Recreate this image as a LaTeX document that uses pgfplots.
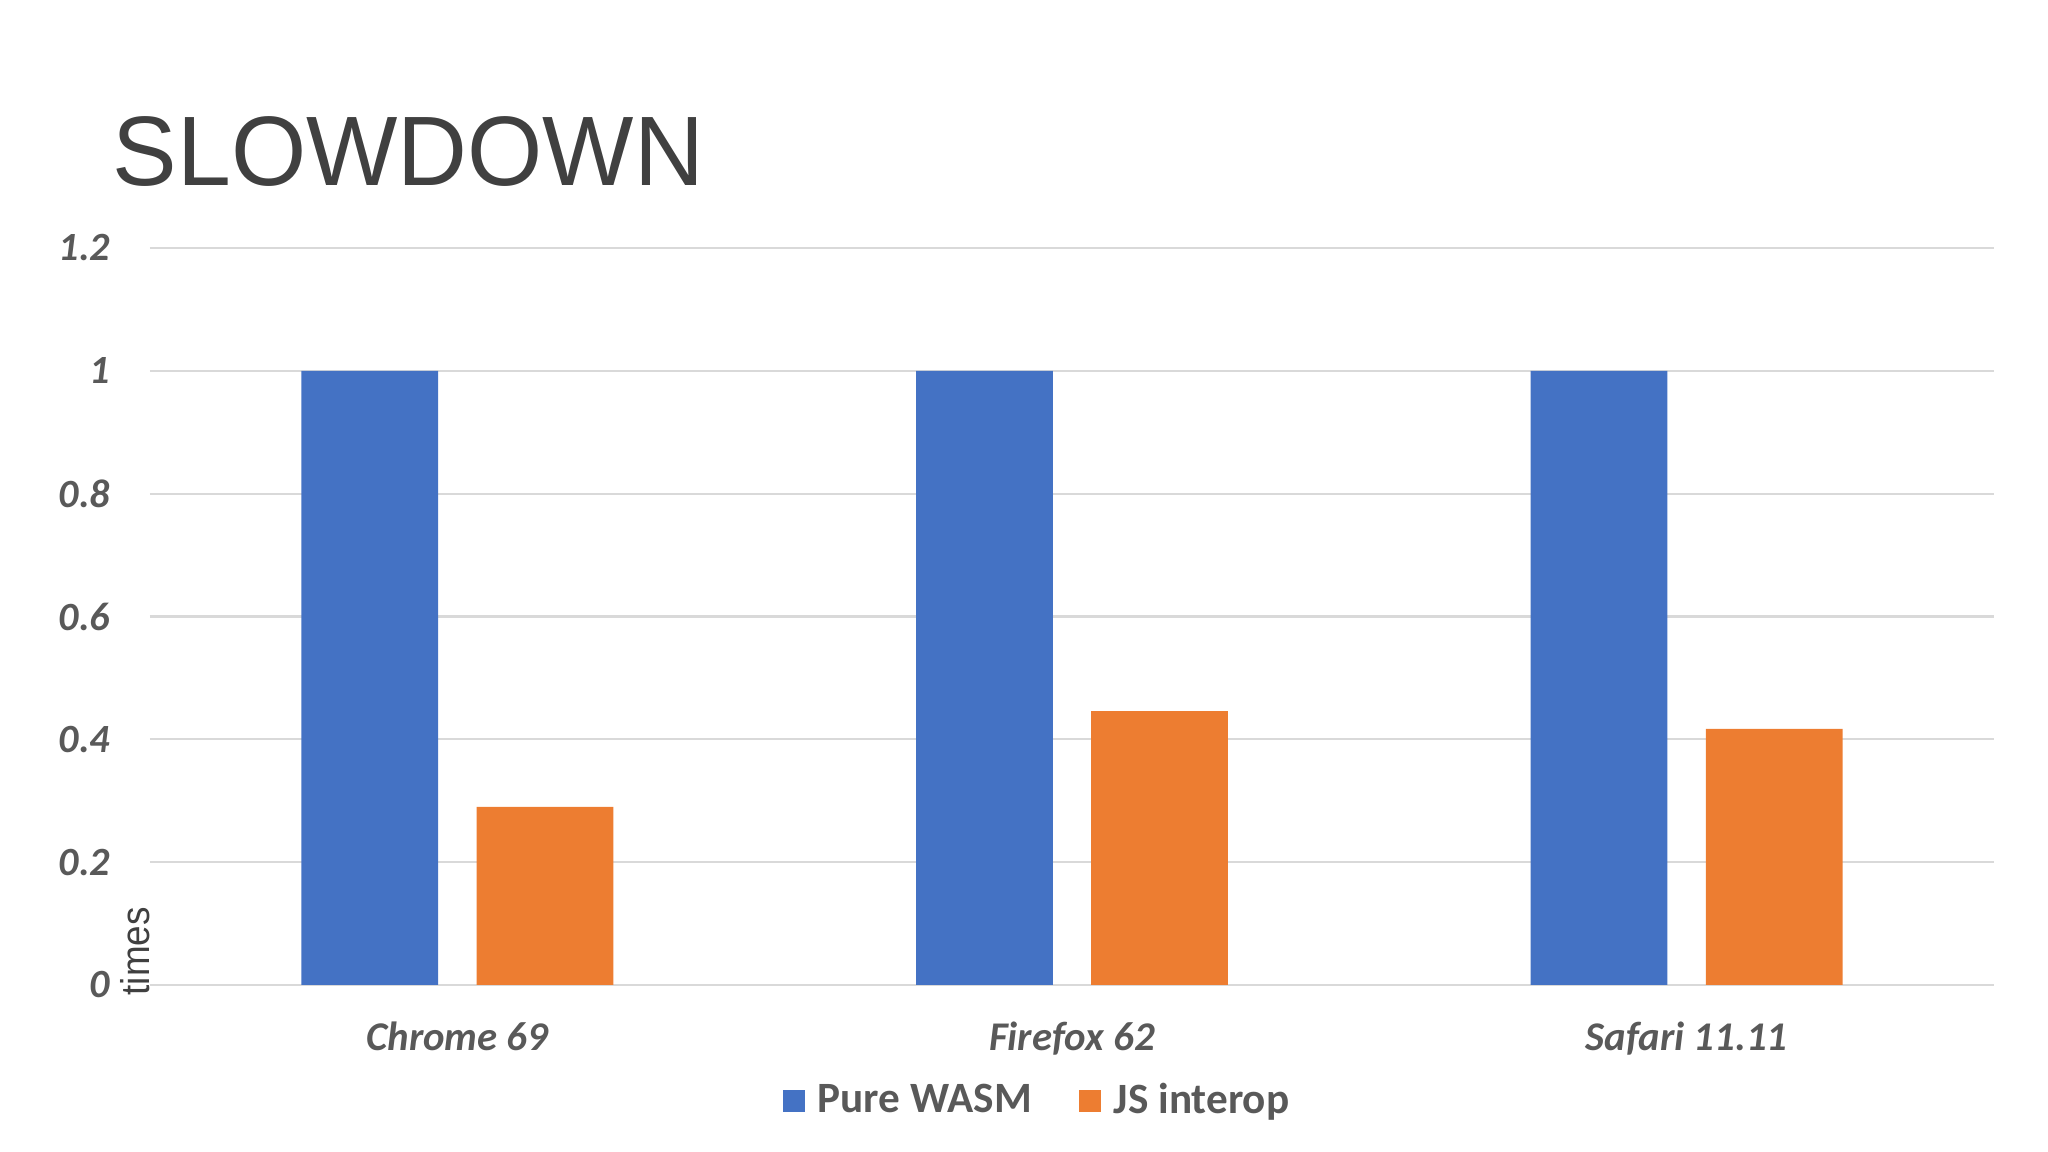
\documentclass[border=0pt]{standalone}
\usepackage{fontspec}
\setmainfont{Carlito}
\newfontfamily\titlefont[FakeStretch=0.98]{Liberation Sans}
\newfontfamily\narrowfont[FakeStretch=0.92]{Liberation Sans}
\usepackage{pgfplots}
\pgfplotsset{compat=1.18}
\definecolor{wblue}{HTML}{4472C4}
\definecolor{worange}{HTML}{ED7D31}
\definecolor{gridgray}{HTML}{D9D9D9}
\definecolor{tickgray}{HTML}{595959}
\definecolor{titlegray}{HTML}{404040}
\begin{document}
\begin{tikzpicture}
\path[use as bounding box] (0,0) rectangle (20.48cm,11.52cm);
\node[anchor=base west, inner sep=0pt, text=titlegray, font=\titlefont\fontsize{28.1}{30}\selectfont] at (1.12cm,9.66cm) {SLOWDOWN};
\begin{axis}[
  at={(1.50cm,1.67cm)}, anchor=south west,
  scale only axis, width=18.44cm, height=7.37cm,
  xmin=-0.5, xmax=2.5, ymin=0, ymax=1.2,
  xtick={0,1,2}, xticklabels={Chrome 69, Firefox 62, Safari 11.11},
  ytick={0,0.2,0.4,0.6,0.8,1,1.2},
  yticklabels={0,0.2,0.4,0.6,0.8,1,1.2},
  /pgf/number format/assume math mode=true,
  axis line style={draw=none},
  major tick length=0pt,
  tick style={draw=none},
  ymajorgrids,
  grid style={color=gridgray, line width=0.6pt},
  ticklabel style={font=\fontsize{11.4}{12}\selectfont\bfseries\itshape, text=tickgray, inner sep=0pt},
  yticklabel style={anchor=east, xshift=-0.39cm},
  xticklabel style={anchor=base, yshift=-0.66cm, font=\fontsize{11.6}{13}\selectfont\bfseries\itshape},
  legend columns=2,
  legend style={at={(0.4805,-0.158)}, anchor=center, draw=none, fill=none,
    font=\fontsize{12.3}{14}\selectfont\bfseries, text=tickgray, inner sep=0pt,
    nodes={inner sep=0pt},
    /tikz/every odd column/.append style={column sep=0.13cm},
    /tikz/every even column/.append style={column sep=0.47cm}},
  legend image code/.code={\fill[#1] (0cm,-0.11cm) rectangle (0.22cm,0.11cm);},
]
\addplot[ybar, bar width=0.2225, bar shift=-0.1425, fill=wblue, draw=none] coordinates {(0,1) (1,1) (2,1)};
\addlegendentry{Pure WASM}
\addplot[ybar, bar width=0.2225, bar shift=0.1425, fill=worange, draw=none] coordinates {(0,0.290) (1,0.446) (2,0.417)};
\addlegendentry{JS interop}
\end{axis}
\node[anchor=base west, rotate=90, inner sep=0pt, text=titlegray, font=\narrowfont\fontsize{11.4}{13}\selectfont] at (1.50cm,1.56cm) {times};
\end{tikzpicture}
\end{document}
